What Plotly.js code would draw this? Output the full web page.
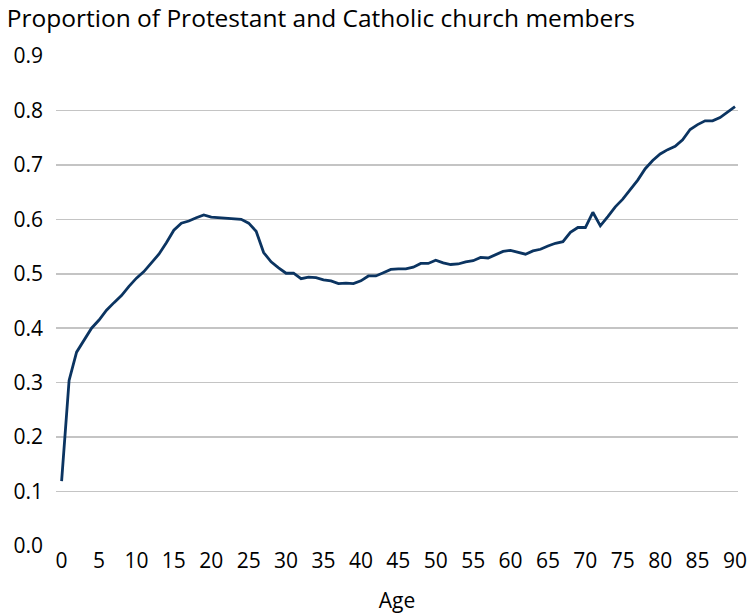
<!DOCTYPE html>
<html>
<head>
<meta charset="utf-8">
<script src="https://cdn.plot.ly/plotly-3.0.1.min.js"></script>
<style>html,body{margin:0;padding:0;background:#fff;}#chart{width:752px;height:616px;}</style>
</head>
<body>
<div id="chart"></div>
<script>
const ages = [];
for (let a = 0; a <= 90; a++) ages.push(a);
const proportion = [
  0.119, 0.304, 0.356, 0.379, 0.400, 0.415, 0.433, 0.447, 0.460, 0.477,
  0.492, 0.504, 0.519, 0.536, 0.557, 0.580, 0.593, 0.597, 0.603, 0.608,
  0.604, 0.603, 0.602, 0.601, 0.600, 0.593, 0.578, 0.539, 0.522, 0.511,
  0.501, 0.501, 0.491, 0.494, 0.493, 0.489, 0.487, 0.482, 0.483, 0.482,
  0.487, 0.496, 0.496, 0.502, 0.508, 0.509, 0.509, 0.512, 0.519, 0.519,
  0.525, 0.520, 0.517, 0.518, 0.522, 0.524, 0.530, 0.529, 0.535, 0.541,
  0.543, 0.539, 0.536, 0.542, 0.545, 0.551, 0.556, 0.559, 0.576, 0.585,
  0.585, 0.613, 0.588, 0.605, 0.623, 0.637, 0.655, 0.672, 0.693, 0.708,
  0.720, 0.728, 0.734, 0.746, 0.765, 0.774, 0.781, 0.781, 0.787, 0.797,
  0.807
];
const xTickVals = [0,5,10,15,20,25,30,35,40,45,50,55,60,65,70,75,80,85,90];
const yTickVals = [0,0.1,0.2,0.3,0.4,0.5,0.6,0.7,0.8,0.9];
const yTickText = ['0.0','0.1','0.2','0.3','0.4','0.5','0.6','0.7','0.8','0.9'];

const font = 'Open Sans, Liberation Sans, Arial, sans-serif';

Plotly.newPlot('chart', [{
  x: ages,
  y: proportion,
  type: 'scatter',
  mode: 'lines',
  line: {color: '#0b3461', width: 2.8},
  hoverinfo: 'x+y'
}], {
  width: 752,
  height: 616,
  margin: {l: 56, r: 14, t: 56, b: 70},
  paper_bgcolor: '#ffffff',
  plot_bgcolor: '#ffffff',
  showlegend: false,
  font: {family: font, size: 21, color: '#000000'},
  title: {
    text: 'Proportion of Protestant and Catholic church members',
    font: {family: font, size: 24.5, color: '#000000'},
    xref: 'container', yref: 'container',
    x: 0.009, xanchor: 'left',
    y: 0.97, yanchor: 'middle'
  },
  xaxis: {
    range: [-0.75, 90.4],
    tickmode: 'array',
    tickvals: xTickVals,
    ticks: '',
    showgrid: false,
    zeroline: false,
    showline: false,
    tickfont: {family: font, size: 21, color: '#000000'},
    title: {text: 'Age', font: {family: font, size: 21, color: '#000000'}, standoff: 20}
  },
  yaxis: {
    range: [0, 0.9],
    tickmode: 'array',
    tickvals: yTickVals,
    ticktext: yTickText,
    ticks: '',
    showgrid: true,
    gridcolor: '#c4c4c4',
    gridwidth: 1.6,
    zeroline: false,
    showline: false,
    ticklabelstandoff: 12,
    tickfont: {family: font, size: 21, color: '#000000'}
  }
}, {displayModeBar: false, staticPlot: true});
</script>
</body>
</html>
